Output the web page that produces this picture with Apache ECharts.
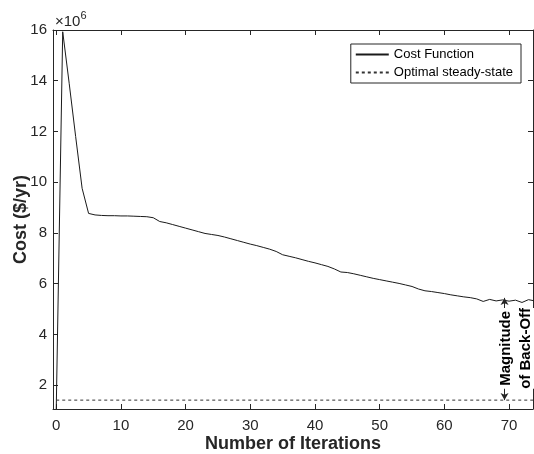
<!DOCTYPE html>
<html>
<head>
<meta charset="utf-8">
<title>Cost Function</title>
<script src="https://cdn.jsdelivr.net/npm/echarts@6.0.0/dist/echarts.min.js"></script>
<style>
    html, body { margin: 0; padding: 0; background: #fff; }
    #main { width: 534px; height: 454px; }
</style>
</head>
<body>
<div id="main"></div>
<script>
// 成本函数 (单位: ×10^6 $/yr)，每次迭代一个值
var costValues = [
    1.06, 15.93, 13.9, 11.8, 9.76, 8.77, 8.71, 8.69, 8.68, 8.68,
    8.67, 8.67, 8.66, 8.65, 8.64, 8.60, 8.45, 8.40, 8.33, 8.26,
    8.19, 8.12, 8.05, 7.98, 7.94, 7.90, 7.84, 7.77, 7.70, 7.63,
    7.56, 7.50, 7.43, 7.36, 7.27, 7.14, 7.08, 7.02, 6.95, 6.88,
    6.82, 6.75, 6.68, 6.58, 6.46, 6.44, 6.39, 6.33, 6.27, 6.21,
    6.16, 6.11, 6.06, 6.01, 5.95, 5.89, 5.79, 5.72, 5.69, 5.65,
    5.61, 5.56, 5.52, 5.48, 5.45, 5.40, 5.30, 5.38, 5.32, 5.36,
    5.31, 5.35, 5.26, 5.37, 5.32
];
// 最优稳态值
var steadyState = 1.41;
var steadyIters = [0, 74];
// 坐标轴刻度
var xTicks = [0, 10, 20, 30, 40, 50, 60, 70];
var yTicks = [2, 4, 6, 8, 10, 12, 14, 16];
// 回退量箭头 (迭代, 上端)
var arrowIter = 69.3;
var arrowTop = 5.44;
// 注释文字位置
var noteIter = 71.1;
var noteValue = 3.45;

var axisColor = '#262626';
var fontName = 'Liberation Sans, Arial, Helvetica, sans-serif';

var costData = costValues.map(function (v, i) { return [i, v]; });
var steadyData = steadyIters.map(function (it) { return [it, steadyState]; });

var chart = echarts.init(document.getElementById('main'), null, {renderer: 'canvas'});

function xAxisOf(pos, showLabel) {
    return {
        type: 'value',
        position: pos,
        min: -0.5,
        max: 73.7,
        name: showLabel ? 'Number of Iterations' : '',
        nameLocation: 'middle',
        nameGap: 26,
        nameMoveOverlap: false,
        nameTextStyle: {color: axisColor, fontSize: 18, fontWeight: 'bold', fontFamily: fontName},
        axisLine: {show: true, onZero: false, lineStyle: {color: axisColor, width: 1}},
        axisTick: {show: true, inside: true, length: 5, customValues: xTicks, lineStyle: {color: axisColor}},
        axisLabel: {show: showLabel, customValues: xTicks, margin: 9, color: axisColor, fontSize: 15, fontFamily: fontName},
        splitLine: {show: false}
    };
}
function yAxisOf(pos, showLabel) {
    return {
        type: 'value',
        position: pos,
        min: 1.06,
        max: 16,
        name: showLabel ? 'Cost ($/yr)' : '',
        nameLocation: 'middle',
        nameGap: 23,
        nameMoveOverlap: false,
        nameTextStyle: {color: axisColor, fontSize: 18, fontWeight: 'bold', fontFamily: fontName},
        axisLine: {show: true, onZero: false, lineStyle: {color: axisColor, width: 1}},
        axisTick: {show: true, inside: true, length: 5, customValues: yTicks, lineStyle: {color: axisColor}},
        axisLabel: {show: showLabel, customValues: yTicks, margin: 6, color: axisColor, fontSize: 15, fontFamily: fontName},
        splitLine: {show: false}
    };
}

var option = {
    animation: false,
    backgroundColor: '#fff',
    grid: {left: 53, right: 1, top: 30, bottom: 45, outerBoundsMode: 'none'},
    legend: {
        orient: 'vertical',
        right: 13,
        top: 44,
        padding: [4, 8, 4, 4],
        itemWidth: 33,
        itemHeight: 12,
        itemGap: 5,
        backgroundColor: '#fff',
        borderColor: axisColor,
        borderWidth: 1,
        borderRadius: 0,
        itemStyle: {opacity: 0},
        textStyle: {color: '#000', fontSize: 13, fontFamily: fontName},
        data: ['Cost Function', 'Optimal steady-state']
    },
    xAxis: [xAxisOf('bottom', true), xAxisOf('top', false)],
    yAxis: [yAxisOf('left', true), yAxisOf('right', false)],
    series: [{
        name: 'Cost Function',
        type: 'line',
        data: costData,
        symbol: 'none',
        lineStyle: {color: '#1a1a1a', width: 1},
        itemStyle: {color: '#1a1a1a'},
        markLine: {
            silent: true,
            symbol: ['arrow', 'arrow'],
            symbolSize: [6, 7],
            label: {show: false},
            lineStyle: {color: axisColor, width: 1, type: 'solid'},
            data: [[{coord: [arrowIter, steadyState]}, {coord: [arrowIter, arrowTop]}]]
        }
    }, {
        name: 'Optimal steady-state',
        type: 'line',
        data: steadyData,
        symbol: 'none',
        lineStyle: {color: '#333', width: 1, type: [3, 3]},
        itemStyle: {color: '#333'}
    }]
};
chart.setOption(option);

//×10^6 和回退量注释
var notePos = chart.convertToPixel({gridIndex: 0}, [noteIter, noteValue]);
chart.setOption({
    graphic: [{
        type: 'text',
        left: 55,
        top: 10,
        style: {
            text: '{a|×10}{s|6}',
            rich: {
                a: {fontSize: 15, fontFamily: fontName, fill: axisColor, verticalAlign: 'bottom'},
                s: {fontSize: 11, fontFamily: fontName, fill: axisColor, verticalAlign: 'top', padding: [0, 0, 8, 0]}
            }
        }
    }, {
        type: 'text',
        x: notePos[0],
        y: notePos[1],
        rotation: Math.PI / 2,
        z: 100,
        style: {
            text: 'Magnitude\nof Back-Off',
            fontSize: 15,
            fontWeight: 'bold',
            fontFamily: fontName,
            lineHeight: 20,
            fill: '#000',
            align: 'center',
            verticalAlign: 'middle',
            backgroundColor: '#fff'
        }
    }]
});
</script>
</body>
</html>
